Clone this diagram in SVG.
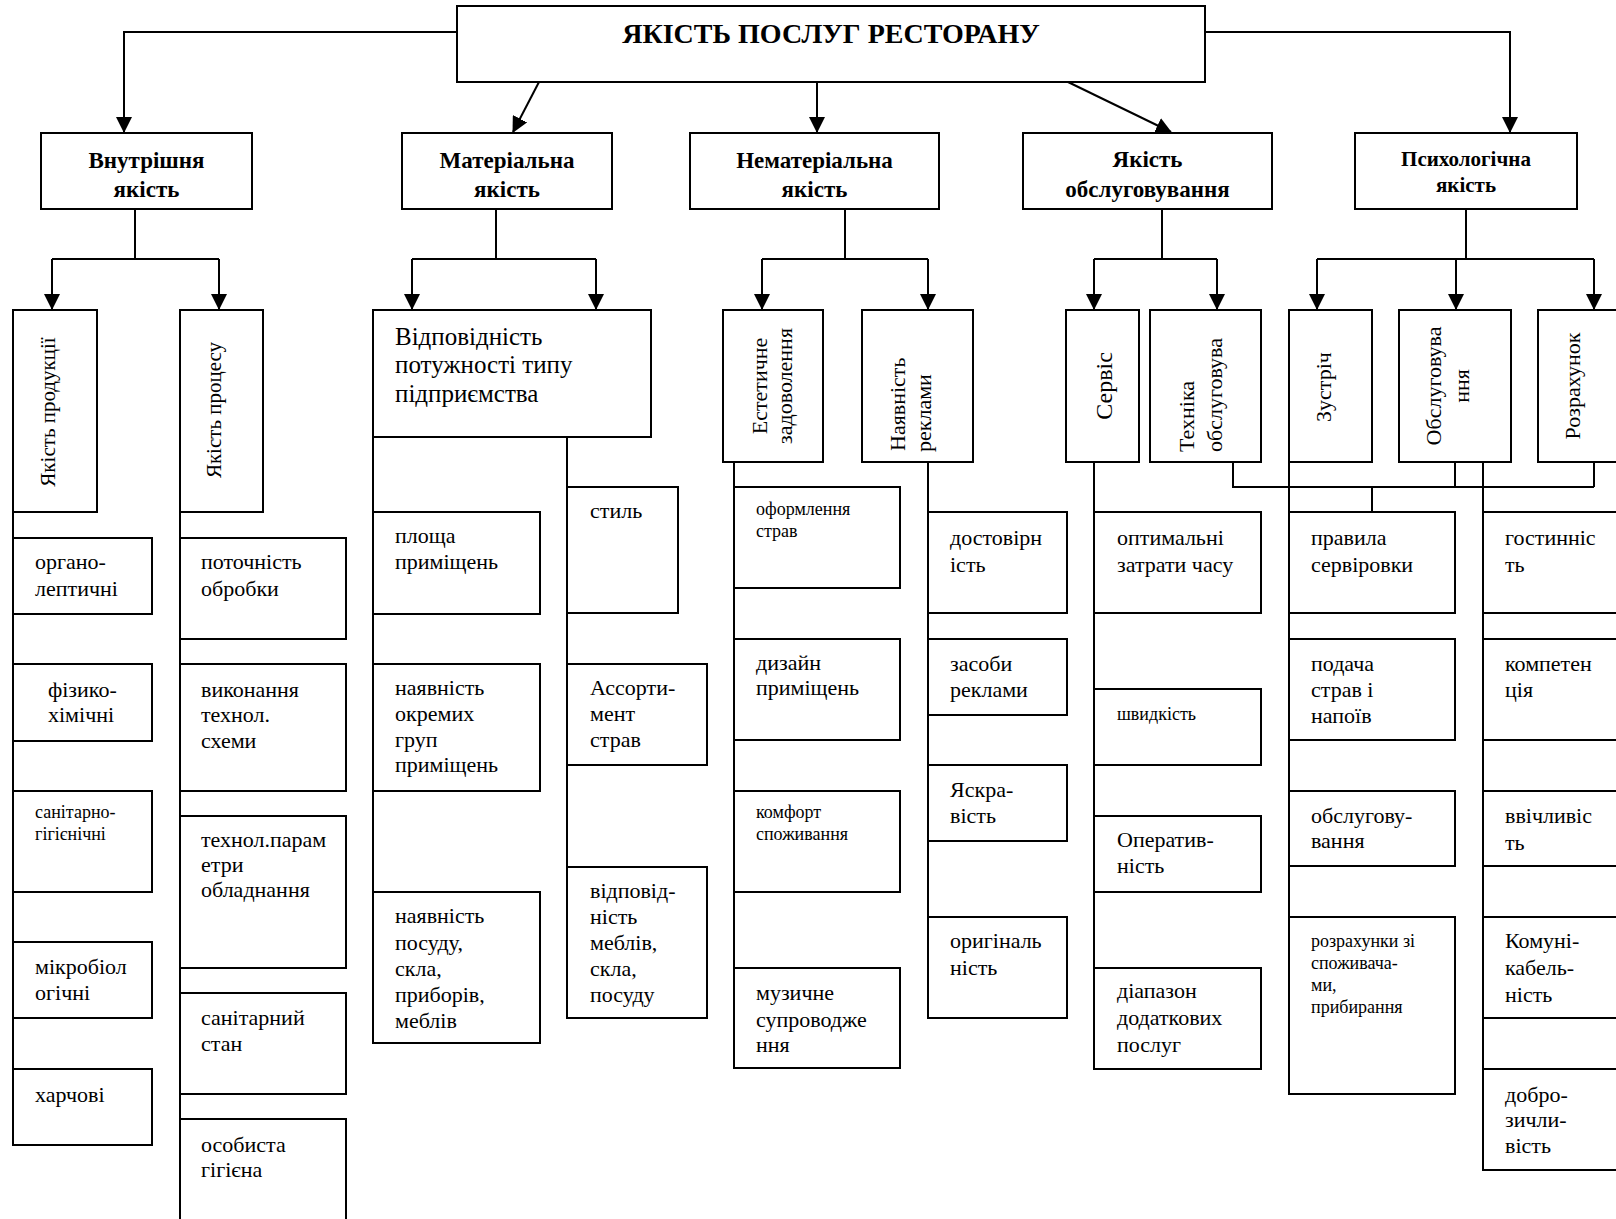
<svg xmlns="http://www.w3.org/2000/svg" width="1616" height="1219" viewBox="0 0 1616 1219">
<style>
.bx{fill:#fff;stroke:#000;stroke-width:2}
.ln{fill:none;stroke:#000;stroke-width:2}
text{font-family:"Liberation Serif","Times New Roman",serif;font-size:22px;fill:#000}
.s{font-size:18px}
.m{font-size:25px}
.h{font-weight:bold;font-size:23px;text-anchor:middle}
.ttl{font-weight:bold;font-size:28px;text-anchor:middle}
.v{text-anchor:middle}
.vs{text-anchor:start}
</style>
<defs>
<marker id="ar" markerUnits="userSpaceOnUse" markerWidth="16" markerHeight="16" viewBox="0 0 16 16" refX="15" refY="8" orient="auto">
<path d="M0,0 L16,8 L0,16 z" fill="#000"/>
</marker>
<clipPath id="clipT"><rect x="1150" y="310" width="91" height="152"/></clipPath>
</defs>
<rect width="1616" height="1219" fill="#fff"/>

<g id="connectors">
<path class="ln" d="M457,32 H124 V132" marker-end="url(#ar)"/>
<path class="ln" d="M539,82 L513,132" marker-end="url(#ar)"/>
<path class="ln" d="M817,82 V132" marker-end="url(#ar)"/>
<path class="ln" d="M1068,82 L1171,132" marker-end="url(#ar)"/>
<path class="ln" d="M1205,32 H1510 V132" marker-end="url(#ar)"/>

<path class="ln" d="M135,209 V259 M52,259 H219"/>
<path class="ln" d="M52,259 V309" marker-end="url(#ar)"/>
<path class="ln" d="M219,259 V309" marker-end="url(#ar)"/>

<path class="ln" d="M496,209 V259 M412,259 H596"/>
<path class="ln" d="M412,259 V309" marker-end="url(#ar)"/>
<path class="ln" d="M596,259 V309" marker-end="url(#ar)"/>

<path class="ln" d="M845,209 V259 M762,259 H928"/>
<path class="ln" d="M762,259 V309" marker-end="url(#ar)"/>
<path class="ln" d="M928,259 V309" marker-end="url(#ar)"/>

<path class="ln" d="M1162,209 V259 M1094,259 H1217"/>
<path class="ln" d="M1094,259 V309" marker-end="url(#ar)"/>
<path class="ln" d="M1217,259 V309" marker-end="url(#ar)"/>

<path class="ln" d="M1466,209 V259 M1317,259 H1594"/>
<path class="ln" d="M1317,259 V309" marker-end="url(#ar)"/>
<path class="ln" d="M1456,259 V309" marker-end="url(#ar)"/>
<path class="ln" d="M1594,259 V309" marker-end="url(#ar)"/>

<path class="ln" d="M13,512 V1069"/>
<path class="ln" d="M180,512 V1119"/>
<path class="ln" d="M373,437 V892"/>
<path class="ln" d="M567,437 V867"/>
<path class="ln" d="M734,462 V968"/>
<path class="ln" d="M928,462 V917"/>
<path class="ln" d="M1094,462 V968"/>
<path class="ln" d="M1289,462 V917"/>
<path class="ln" d="M1483,462 V1069"/>
<path class="ln" d="M1233,462 V487 H1594 M1455,462 V487 M1594,462 V487 M1372,487 V512"/>
</g>

<g id="n-root">
<rect class="bx" x="457" y="6" width="748" height="76"/>
<text class="ttl" x="831" y="43">ЯКІСТЬ ПОСЛУГ РЕСТОРАНУ</text>
</g>

<g id="n-vnutr">
<rect class="bx" x="41" y="133" width="211" height="76"/>
<text class="h" x="146.5" y="168">Внутрішня</text>
<text class="h" x="146.5" y="197">якість</text>
</g>
<g id="n-mater">
<rect class="bx" x="402" y="133" width="210" height="76"/>
<text class="h" x="507" y="168">Матеріальна</text>
<text class="h" x="507" y="197">якість</text>
</g>
<g id="n-nemater">
<rect class="bx" x="690" y="133" width="249" height="76"/>
<text class="h" x="814.5" y="168">Нематеріальна</text>
<text class="h" x="814.5" y="197">якість</text>
</g>
<g id="n-obsl">
<rect class="bx" x="1023" y="133" width="249" height="76"/>
<text class="h" x="1147.5" y="167">Якість</text>
<text class="h" x="1147.5" y="197">обслуговування</text>
</g>
<g id="n-psych">
<rect class="bx" x="1355" y="133" width="222" height="76"/>
<text class="h" x="1466" y="166" style="font-size:21px">Психологічна</text>
<text class="h" x="1466" y="192" style="font-size:21px">якість</text>
</g>

<g id="n-prod">
<rect class="bx" x="13" y="310" width="84" height="202"/>
<text class="v" style="font-size:21px" transform="translate(55,412) rotate(-90)">Якість продукції</text>
</g>
<g id="n-proc">
<rect class="bx" x="180" y="310" width="83" height="202"/>
<text class="v" style="font-size:21px" transform="translate(221,410) rotate(-90)">Якість процесу</text>
</g>
<g id="n-vidp">
<rect class="bx" x="373" y="310" width="278" height="127"/>
<text class="m" x="395" y="345">Відповідність</text>
<text class="m" x="395" y="373">потужності типу</text>
<text class="m" x="395" y="402">підприємства</text>
</g>
<g id="n-estet">
<rect class="bx" x="723" y="310" width="100" height="152"/>
<text class="v" transform="translate(767,386) rotate(-90)">Естетичне</text>
<text class="v" transform="translate(792,386) rotate(-90)">задоволення</text>
</g>
<g id="n-reklama">
<rect class="bx" x="862" y="310" width="111" height="152"/>
<text class="vs" transform="translate(905,451) rotate(-90)">Наявність</text>
<text class="vs" transform="translate(931,452) rotate(-90)">реклами</text>
</g>
<g id="n-servis">
<rect class="bx" x="1066" y="310" width="73" height="152"/>
<text class="v" style="font-size:24px" transform="translate(1112,386) rotate(-90)">Сервіс</text>
</g>
<g id="n-tekhnika">
<rect class="bx" x="1150" y="310" width="111" height="152"/>
<text class="vs" transform="translate(1194,452) rotate(-90)">Техніка</text>
<text class="vs" transform="translate(1222,452) rotate(-90)">обслуговува</text>
<text class="vs" clip-path="url(#clipT)" transform="translate(1247,452) rotate(-90)">ння</text>
</g>
<g id="n-zustrich">
<rect class="bx" x="1289" y="310" width="83" height="152"/>
<text class="v" transform="translate(1331,387) rotate(-90)">Зустріч</text>
</g>
<g id="n-obsluh">
<rect class="bx" x="1399" y="310" width="112" height="152"/>
<text class="v" transform="translate(1441,386) rotate(-90)">Обслуговува</text>
<text class="v" transform="translate(1469,386) rotate(-90)">ння</text>
</g>
<g id="n-rozrakh">
<rect class="bx" x="1538" y="310" width="100" height="152"/>
<text class="v" transform="translate(1580,386) rotate(-90)">Розрахунок</text>
</g>

<g id="n-orhano">
<rect class="bx" x="13" y="538" width="139" height="76"/>
<text x="35" y="569">органо-</text>
<text x="35" y="596">лептичні</text>
</g>
<g id="n-fizyko">
<rect class="bx" x="13" y="664" width="139" height="77"/>
<text x="48" y="697">фізико-</text>
<text x="48" y="722">хімічні</text>
</g>
<g id="n-sanhih">
<rect class="bx" x="13" y="791" width="139" height="101"/>
<text class="s" x="35" y="818">санітарно-</text>
<text class="s" x="35" y="840">гігієнічні</text>
</g>
<g id="n-mikro">
<rect class="bx" x="13" y="942" width="139" height="76"/>
<text x="35" y="974">мікробіол</text>
<text x="35" y="1000">огічні</text>
</g>
<g id="n-kharch">
<rect class="bx" x="13" y="1069" width="139" height="76"/>
<text x="35" y="1102">харчові</text>
</g>

<g id="n-potoch">
<rect class="bx" x="180" y="538" width="166" height="101"/>
<text x="201" y="569">поточність</text>
<text x="201" y="596">обробки</text>
</g>
<g id="n-vykon">
<rect class="bx" x="180" y="664" width="166" height="127"/>
<text x="201" y="697">виконання</text>
<text x="201" y="722">технол.</text>
<text x="201" y="748">схеми</text>
</g>
<g id="n-param">
<rect class="bx" x="180" y="816" width="166" height="152"/>
<text x="201" y="847">технол.парам</text>
<text x="201" y="872">етри</text>
<text x="201" y="897">обладнання</text>
</g>
<g id="n-sanstan">
<rect class="bx" x="180" y="993" width="166" height="101"/>
<text x="201" y="1025">санітарний</text>
<text x="201" y="1051">стан</text>
</g>
<g id="n-osob">
<rect class="bx" x="180" y="1119" width="166" height="120"/>
<text x="201" y="1152">особиста</text>
<text x="201" y="1177">гігієна</text>
</g>

<g id="n-plosha">
<rect class="bx" x="373" y="512" width="167" height="102"/>
<text x="395" y="543">площа</text>
<text x="395" y="569">приміщень</text>
</g>
<g id="n-hrup">
<rect class="bx" x="373" y="664" width="167" height="127"/>
<text x="395" y="695">наявність</text>
<text x="395" y="721">окремих</text>
<text x="395" y="747">груп</text>
<text x="395" y="772">приміщень</text>
</g>
<g id="n-posud">
<rect class="bx" x="373" y="892" width="167" height="151"/>
<text x="395" y="923">наявність</text>
<text x="395" y="950">посуду,</text>
<text x="395" y="976">скла,</text>
<text x="395" y="1002">приборів,</text>
<text x="395" y="1028">меблів</text>
</g>
<g id="n-styl">
<rect class="bx" x="567" y="487" width="111" height="126"/>
<text x="590" y="518">стиль</text>
</g>
<g id="n-asort">
<rect class="bx" x="567" y="664" width="140" height="101"/>
<text x="590" y="695">Ассорти-</text>
<text x="590" y="721">мент</text>
<text x="590" y="747">страв</text>
</g>
<g id="n-mebliv">
<rect class="bx" x="567" y="867" width="140" height="151"/>
<text x="590" y="898">відповід-</text>
<text x="590" y="924">ність</text>
<text x="590" y="950">меблів,</text>
<text x="590" y="976">скла,</text>
<text x="590" y="1002">посуду</text>
</g>

<g id="n-oform">
<rect class="bx" x="734" y="487" width="166" height="101"/>
<text class="s" x="756" y="515">оформлення</text>
<text class="s" x="756" y="537">страв</text>
</g>
<g id="n-dyzain">
<rect class="bx" x="734" y="639" width="166" height="101"/>
<text x="756" y="670">дизайн</text>
<text x="756" y="695">приміщень</text>
</g>
<g id="n-komfort">
<rect class="bx" x="734" y="791" width="166" height="101"/>
<text class="s" x="756" y="818">комфорт</text>
<text class="s" x="756" y="840">споживання</text>
</g>
<g id="n-muz">
<rect class="bx" x="734" y="968" width="166" height="100"/>
<text x="756" y="1000">музичне</text>
<text x="756" y="1027">супроводже</text>
<text x="756" y="1052">ння</text>
</g>

<g id="n-dostov">
<rect class="bx" x="928" y="512" width="139" height="101"/>
<text x="950" y="545">достовірн</text>
<text x="950" y="572">ість</text>
</g>
<g id="n-zasoby">
<rect class="bx" x="928" y="639" width="139" height="76"/>
<text x="950" y="671">засоби</text>
<text x="950" y="697">реклами</text>
</g>
<g id="n-yaskr">
<rect class="bx" x="928" y="765" width="139" height="76"/>
<text x="950" y="797">Яскра-</text>
<text x="950" y="823">вість</text>
</g>
<g id="n-oryh">
<rect class="bx" x="928" y="917" width="139" height="101"/>
<text x="950" y="948">оригіналь</text>
<text x="950" y="975">ність</text>
</g>

<g id="n-optym">
<rect class="bx" x="1094" y="512" width="167" height="101"/>
<text x="1117" y="545">оптимальні</text>
<text x="1117" y="572">затрати часу</text>
</g>
<g id="n-shvyd">
<rect class="bx" x="1094" y="689" width="167" height="76"/>
<text class="s" x="1117" y="720">швидкість</text>
</g>
<g id="n-operat">
<rect class="bx" x="1094" y="816" width="167" height="76"/>
<text x="1117" y="847">Оператив-</text>
<text x="1117" y="873">ність</text>
</g>
<g id="n-diapazon">
<rect class="bx" x="1094" y="968" width="167" height="101"/>
<text x="1117" y="998">діапазон</text>
<text x="1117" y="1025">додаткових</text>
<text x="1117" y="1052">послуг</text>
</g>

<g id="n-pravyla">
<rect class="bx" x="1289" y="512" width="166" height="101"/>
<text x="1311" y="545">правила</text>
<text x="1311" y="572">сервіровки</text>
</g>
<g id="n-podacha">
<rect class="bx" x="1289" y="639" width="166" height="101"/>
<text x="1311" y="671">подача</text>
<text x="1311" y="697">страв і</text>
<text x="1311" y="723">напоїв</text>
</g>
<g id="n-obsluhov">
<rect class="bx" x="1289" y="791" width="166" height="75"/>
<text x="1311" y="823">обслугову-</text>
<text x="1311" y="848">вання</text>
</g>
<g id="n-rozrakhunky">
<rect class="bx" x="1289" y="917" width="166" height="177"/>
<text class="s" x="1311" y="947">розрахунки зі</text>
<text class="s" x="1311" y="969">споживача-</text>
<text class="s" x="1311" y="991">ми,</text>
<text class="s" x="1311" y="1013">прибирання</text>
</g>

<g id="n-hostyn">
<rect class="bx" x="1483" y="512" width="160" height="101"/>
<text x="1505" y="545">гостинніс</text>
<text x="1505" y="572">ть</text>
</g>
<g id="n-kompet">
<rect class="bx" x="1483" y="639" width="160" height="101"/>
<text x="1505" y="671">компетен</text>
<text x="1505" y="697">ція</text>
</g>
<g id="n-vvichl">
<rect class="bx" x="1483" y="791" width="160" height="75"/>
<text x="1505" y="823">ввічливіс</text>
<text x="1505" y="850">ть</text>
</g>
<g id="n-komun">
<rect class="bx" x="1483" y="917" width="160" height="101"/>
<text x="1505" y="948">Комуні-</text>
<text x="1505" y="975">кабель-</text>
<text x="1505" y="1002">ність</text>
</g>
<g id="n-dobro">
<rect class="bx" x="1483" y="1069" width="160" height="101"/>
<text x="1505" y="1102">добро-</text>
<text x="1505" y="1127">зичли-</text>
<text x="1505" y="1153">вість</text>
</g>
</svg>
